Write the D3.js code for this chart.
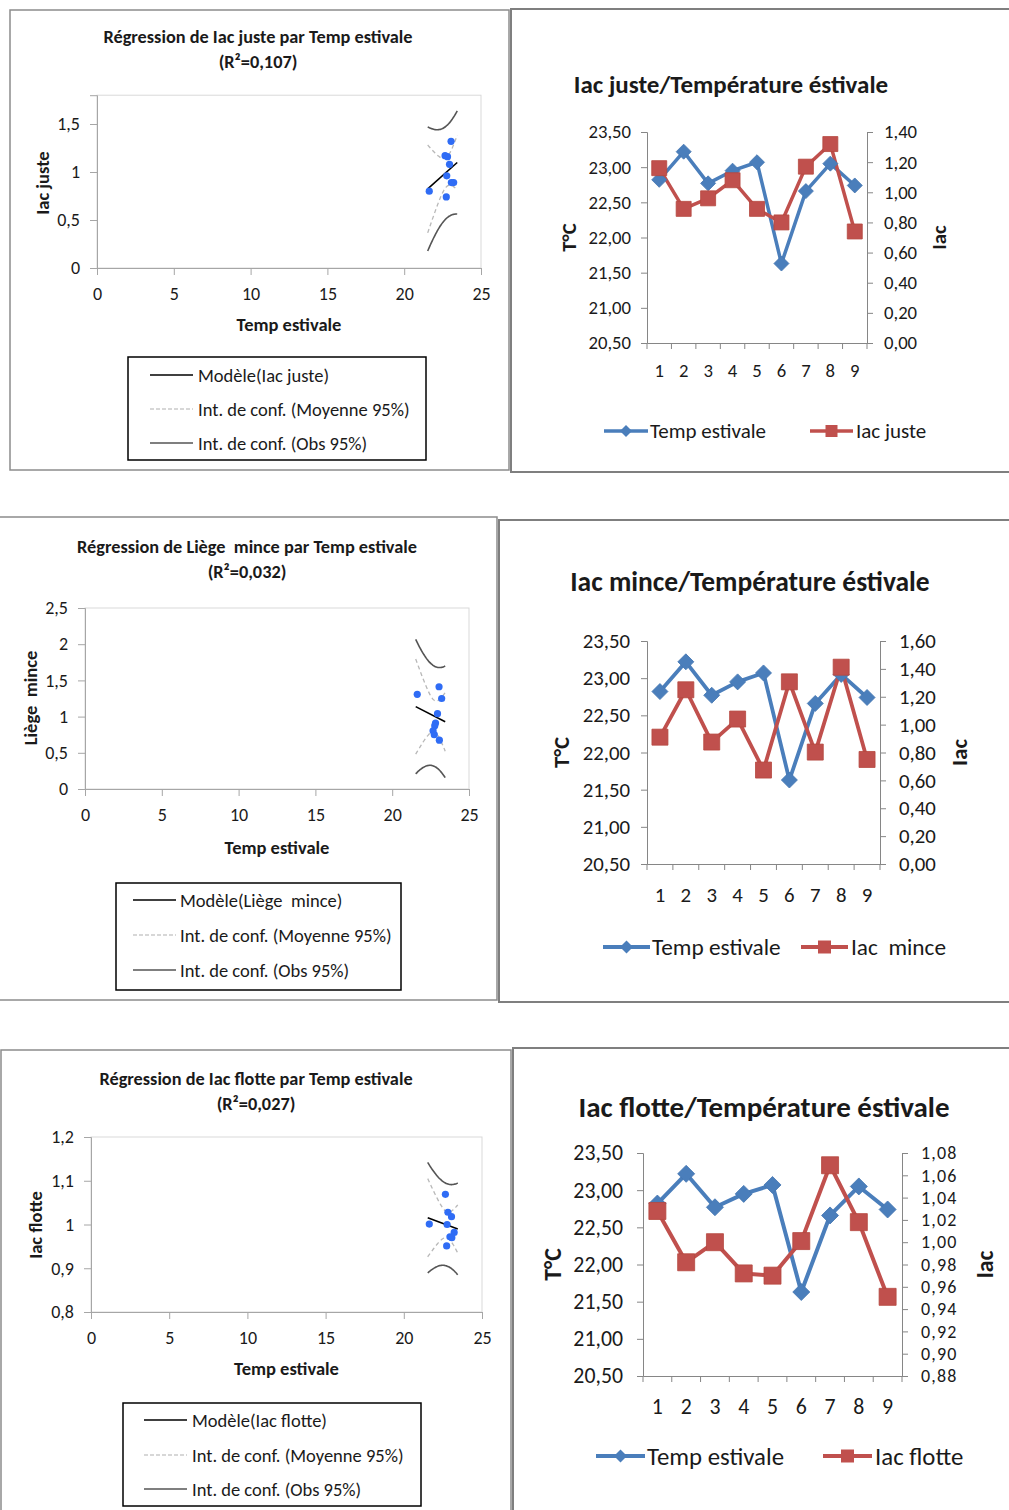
<!DOCTYPE html>
<html><head><meta charset="utf-8">
<script src="https://cdn.jsdelivr.net/npm/d3@7"></script>
<style>
body{margin:0;background:#fff}
svg{display:block}
text{font-family:Carlito, Lato, "Open Sans", sans-serif; fill:#1a1a1a; white-space:pre}
</style>
</head><body>
<svg id="c" width="1009" height="1510"></svg>
<script>
// ---------------- DATA ----------------
const categories = ["1","2","3","4","5","6","7","8","9"];
const tempEstivale = [22.82, 23.22, 22.77, 22.95, 23.07, 21.63, 22.66, 23.05, 22.74];
const iacJuste     = [1.16, 0.89, 0.96, 1.08, 0.89, 0.80, 1.17, 1.32, 0.74];
const liegeMince   = [0.91, 1.25, 0.875, 1.04, 0.674, 1.307, 0.803, 1.412, 0.75];
const iacFlotte    = [1.028, 0.982, 1.000, 0.972, 0.970, 1.001, 1.069, 1.018, 0.951];
const r2Labels = ["0,107", "0,032", "0,027"];
const scatterXTicks = [0, 5, 10, 15, 20, 25];
const justeYTicks  = [0, 0.5, 1, 1.5];
const minceYTicks  = [0, 0.5, 1, 1.5, 2, 2.5];
const flotteYTicks = [0.8, 0.9, 1, 1.1, 1.2];
const tempTicks = [20.5, 21, 21.5, 22, 22.5, 23, 23.5];
const justeRightTicks  = [0, 0.2, 0.4, 0.6, 0.8, 1.0, 1.2, 1.4];
const minceRightTicks  = [0, 0.2, 0.4, 0.6, 0.8, 1.0, 1.2, 1.4, 1.6];
const flotteRightTicks = [0.88, 0.90, 0.92, 0.94, 0.96, 0.98, 1.00, 1.02, 1.04, 1.06, 1.08];
const fitRange = [21.53, 23.45];
const tCrit = 2.365; // t(0.975, 7)

// ---------------- HELPERS ----------------
const loc = d3.formatLocale({decimal: ",", thousands: " ", grouping: [3], currency: ["", "€"]});
const fmtShort = loc.format(".1~f");
const fmt2 = loc.format(".2f");
const svg = d3.select("#c");
svg.append("rect").attr("width", 1009).attr("height", 1510).attr("fill", "#fff");

const BLUE = "#4a7ebb", RED = "#c0504d";
const FONT = "Carlito, Lato, sans-serif";

function panelBorder(x, y, w, h, col, sw) {
  svg.append("rect").attr("x", x).attr("y", y).attr("width", w).attr("height", h)
    .attr("fill", "none").attr("stroke", col).attr("stroke-width", sw);
}

function fit(xs, ys) {
  const n = xs.length, mx = d3.mean(xs), my = d3.mean(ys);
  const sxx = d3.sum(xs, x => (x - mx) ** 2);
  const sxy = d3.sum(xs.map((x, i) => (x - mx) * (ys[i] - my)));
  const b = sxy / sxx, a = my - b * mx;
  const sse = d3.sum(xs.map((x, i) => (ys[i] - a - b * x) ** 2));
  const s = Math.sqrt(sse / (n - 2));
  return {a, b, s, n, mx, sxx};
}

function drawScatter(o) {
  const g = svg.append("g");
  const x = d3.scaleLinear().domain([0, 25]).range(o.xr);
  const y = d3.scaleLinear().domain(o.yd).range(o.yr);
  // titles
  g.append("text").attr("x", o.tx).attr("y", o.ty).attr("text-anchor", "middle")
    .style("font-size", "18.3px").style("font-weight", 600).text(o.title);
  g.append("text").attr("x", o.tx).attr("y", o.ty + 25).attr("text-anchor", "middle")
    .style("font-size", "18.3px").style("font-weight", 600).text("(R²=" + o.r2 + ")");
  // plot frame
  g.append("rect").attr("x", o.xr[0]).attr("y", o.yr[1]).attr("width", o.xr[1] - o.xr[0])
    .attr("height", o.yr[0] - o.yr[1]).attr("fill", "none").attr("stroke", "#d9d9d9");
  // axes
  const ya = g.append("g").attr("transform", `translate(${o.xr[0]},0)`)
    .call(d3.axisLeft(y).tickValues(o.yTicks).tickFormat(fmtShort).tickSize(7).tickPadding(10));
  const xa = g.append("g").attr("transform", `translate(0,${o.yr[0]})`)
    .call(d3.axisBottom(x).tickValues(scatterXTicks).tickFormat(fmtShort).tickSize(7).tickPadding(12));
  [ya, xa].forEach(a => {
    a.select(".domain").attr("stroke", "#a6a6a6");
    a.selectAll(".tick line").attr("stroke", "#a6a6a6");
    a.selectAll("text").style("font-size", "18px").style("font-family", FONT).attr("fill", "#222");
  });
  // axis titles
  g.append("text").attr("x", (o.xr[0] + o.xr[1]) / 2).attr("y", o.xty).attr("text-anchor", "middle")
    .style("font-size", "18.5px").style("font-weight", 600).text("Temp estivale");
  g.append("text").attr("transform", `translate(${o.ytx},${o.yty}) rotate(-90)`).attr("text-anchor", "middle")
    .style("font-size", "18.5px").style("font-weight", 600).text(o.yLabel);
  // regression
  const f = fit(tempEstivale, o.ys);
  const xsamp = d3.range(0, 41).map(i => fitRange[0] + (fitRange[1] - fitRange[0]) * i / 40);
  const model = v => f.a + f.b * v;
  const hwMean = v => tCrit * f.s * Math.sqrt(1 / f.n + (v - f.mx) ** 2 / f.sxx);
  const hwObs = v => tCrit * f.s * Math.sqrt(1 + 1 / f.n + (v - f.mx) ** 2 / f.sxx);
  const line = d3.line().x(d => x(d[0])).y(d => y(d[1])).curve(d3.curveMonotoneX);
  [1, -1].forEach(sg => {
    g.append("path").attr("d", line(xsamp.map(v => [v, model(v) + sg * hwMean(v)])))
      .attr("fill", "none").attr("stroke", "#b8b8b8").attr("stroke-width", 1.3).attr("stroke-dasharray", "4,3");
    g.append("path").attr("d", line(xsamp.map(v => [v, model(v) + sg * hwObs(v)])))
      .attr("fill", "none").attr("stroke", "#555").attr("stroke-width", 1.6);
  });
  g.append("path").attr("d", line(fitRange.map(v => [v, model(v)])))
    .attr("fill", "none").attr("stroke", "#000").attr("stroke-width", 1.6);
  g.selectAll("circle.pt").data(tempEstivale).join("circle").attr("class", "pt")
    .attr("cx", d => x(d)).attr("cy", (d, i) => y(o.ys[i])).attr("r", 3.6).attr("fill", "#2f6cf5");
  // legend
  const L = o.leg;
  g.append("rect").attr("x", L.x).attr("y", L.y).attr("width", L.w).attr("height", L.h)
    .attr("fill", "#fff").attr("stroke", "#000").attr("stroke-width", 1.5);
  const items = [
    {t: "Modèle(" + o.modelName + ")", c: "#000", d: null, w: 1.5},
    {t: "Int. de conf. (Moyenne 95%)", c: "#b0b0b0", d: "4,2", w: 1.1},
    {t: "Int. de conf. (Obs 95%)", c: "#555", d: null, w: 1.3}
  ];
  items.forEach((it, i) => {
    const yy = L.rows[i];
    g.append("line").attr("x1", L.lx[0]).attr("x2", L.lx[1]).attr("y1", yy).attr("y2", yy)
      .attr("stroke", it.c).attr("stroke-width", it.w).attr("stroke-dasharray", it.d);
    g.append("text").attr("x", L.tx).attr("y", yy + 6.5).style("font-size", "18.5px").attr("fill", "#222").text(it.t);
  });
}

function drawLines(o) {
  const g = svg.append("g");
  const x = d3.scaleBand().domain(categories).range(o.xr).padding(0);
  const cx = c => x(c) + x.bandwidth() / 2;
  const yL = d3.scaleLinear().domain([20.5, 23.5]).range(o.yr);
  const yR = d3.scaleLinear().domain(o.rd).range(o.yr);
  g.append("text").attr("x", o.tx).attr("y", o.ty).attr("text-anchor", "middle")
    .style("font-size", o.tfs + "px").style("font-weight", 700).attr("fill", "#222").text(o.title);
  const la = g.append("g").attr("transform", `translate(${o.xr[0]},0)`)
    .call(d3.axisLeft(yL).tickValues(tempTicks).tickFormat(fmt2).tickSize(6).tickPadding(o.lpad));
  const ra = g.append("g").attr("transform", `translate(${o.xr[1]},0)`)
    .call(d3.axisRight(yR).tickValues(o.rTicks).tickFormat(fmt2).tickSize(6).tickPadding(o.rpad));
  const ba = g.append("g").attr("transform", `translate(0,${o.yr[0]})`)
    .call(d3.axisBottom(x).tickSize(0).tickPadding(o.cpad));
  ba.selectAll(".tick").attr("transform", d => `translate(${cx(d)},0)`);
  g.append("g").selectAll("line").data(categories.concat(["end"])).join("line")
    .attr("x1", d => d === "end" ? o.xr[1] : x(d)).attr("x2", d => d === "end" ? o.xr[1] : x(d))
    .attr("y1", o.yr[0]).attr("y2", o.yr[0] + 6).attr("stroke", "#868686");
  [la, ra, ba].forEach(a => {
    a.select(".domain").attr("stroke", "#868686");
    a.selectAll(".tick line").attr("stroke", "#868686");
    a.selectAll("text").style("font-size", o.fs + "px").style("font-family", FONT).attr("fill", "#222");
  });
  if (o.rfs) {
    ra.selectAll("text").style("font-size", o.rfs + "px").style("letter-spacing", o.rls + "px");
  }
  g.append("text").attr("transform", `translate(${o.ltx},${(o.yr[0] + o.yr[1]) / 2}) rotate(-90)`)
    .attr("text-anchor", "middle").style("font-size", (o.fs + 2) + "px").style("font-weight", 700).text("T°C");
  g.append("text").attr("transform", `translate(${o.rtx},${(o.yr[0] + o.yr[1]) / 2}) rotate(-90)`)
    .attr("text-anchor", "middle").style("font-size", (o.fs + 2) + "px").style("font-weight", 700).text("Iac");
  const line = d3.line().x((d, i) => cx(categories[i]));
  g.append("path").attr("d", line.y(d => yL(d))(tempEstivale)).attr("fill", "none")
    .attr("stroke", BLUE).attr("stroke-width", o.lw).attr("stroke-linejoin", "round");
  g.append("path").attr("d", line.y(d => yR(d))(o.ys)).attr("fill", "none")
    .attr("stroke", RED).attr("stroke-width", o.lw).attr("stroke-linejoin", "round");
  const dia = d3.symbol().type(d3.symbolSquare).size(o.ms * o.ms / 2);
  g.selectAll("path.dm").data(tempEstivale).join("path").attr("class", "dm")
    .attr("d", dia).attr("transform", (d, i) => `translate(${cx(categories[i])},${yL(d)}) rotate(45)`)
    .attr("fill", BLUE).attr("stroke", "#4677b2").attr("stroke-width", 0.8);
  const sq = d3.symbol().type(d3.symbolSquare).size(o.ms * o.ms);
  g.selectAll("path.sq").data(o.ys).join("path").attr("class", "sq")
    .attr("d", sq).attr("transform", (d, i) => `translate(${cx(categories[i])},${yR(d)})`)
    .attr("fill", RED).attr("stroke", "#b5473f").attr("stroke-width", 0.8);
  // legend
  const Lg = o.leg;
  g.append("line").attr("x1", Lg.b[0]).attr("x2", Lg.b[1]).attr("y1", Lg.y).attr("y2", Lg.y)
    .attr("stroke", BLUE).attr("stroke-width", o.lw);
  g.append("path").attr("d", d3.symbol().type(d3.symbolSquare).size(Lg.m * Lg.m / 2))
    .attr("transform", `translate(${(Lg.b[0] + Lg.b[1]) / 2},${Lg.y}) rotate(45)`).attr("fill", BLUE);
  g.append("text").attr("x", Lg.b[1] + 2).attr("y", Lg.y + o.lfs * 0.35).style("font-size", o.lfs + "px").attr("fill", "#222").text("Temp estivale");
  g.append("line").attr("x1", Lg.r[0]).attr("x2", Lg.r[1]).attr("y1", Lg.y).attr("y2", Lg.y)
    .attr("stroke", RED).attr("stroke-width", o.lw);
  g.append("path").attr("d", d3.symbol().type(d3.symbolSquare).size(Lg.m * Lg.m))
    .attr("transform", `translate(${(Lg.r[0] + Lg.r[1]) / 2},${Lg.y})`).attr("fill", RED);
  g.append("text").attr("x", Lg.r[1] + 3).attr("y", Lg.y + o.lfs * 0.35).style("font-size", o.lfs + "px").attr("fill", "#222").text(o.seriesName);
}

// ---------------- PANEL BORDERS ----------------
panelBorder(10, 10, 499, 460, "#8c8c8c", 1.5);
panelBorder(511, 9, 510, 463, "#7f7f7f", 2);
panelBorder(-1, 517, 498, 483, "#8c8c8c", 1.5);
panelBorder(499, 520, 520, 482, "#7f7f7f", 2);
panelBorder(1, 1050, 510, 470, "#8c8c8c", 1.5);
panelBorder(513, 1048, 510, 470, "#7f7f7f", 2);

// ---------------- SCATTER PANELS ----------------
drawScatter({title: "Régression de Iac juste par Temp estivale", r2: r2Labels[0], tx: 258, ty: 42.5,
  xr: [97, 481], yr: [268, 95.2], yd: [0, 1.8], yTicks: justeYTicks, ys: iacJuste,
  xty: 331, ytx: 49, yty: 183, yLabel: "Iac juste", modelName: "Iac juste",
  leg: {x: 128, y: 357, w: 298, h: 103, rows: [375, 409, 443], lx: [150, 193], tx: 198}});
drawScatter({title: "Régression de Liège  mince par Temp estivale", r2: r2Labels[1], tx: 247, ty: 552.5,
  xr: [85, 469], yr: [789, 608], yd: [0, 2.5], yTicks: minceYTicks, ys: liegeMince,
  xty: 854, ytx: 37, yty: 698, yLabel: "Liège  mince", modelName: "Liège  mince",
  leg: {x: 116, y: 883, w: 285, h: 107, rows: [900, 935, 970], lx: [133, 176], tx: 180}});
drawScatter({title: "Régression de Iac flotte par Temp estivale", r2: r2Labels[2], tx: 256, ty: 1084.5,
  xr: [91, 482], yr: [1312, 1137], yd: [0.8, 1.2], yTicks: flotteYTicks, ys: iacFlotte,
  xty: 1375, ytx: 42, yty: 1225, yLabel: "Iac flotte", modelName: "Iac flotte",
  leg: {x: 123, y: 1403, w: 298, h: 103, rows: [1420, 1455, 1489], lx: [144, 187], tx: 192}});

// ---------------- LINE PANELS ----------------
drawLines({title: "Iac juste/Température éstivale", tx: 731, ty: 93, tfs: 25,
  xr: [647, 867], yr: [343, 132], rd: [0, 1.4], rTicks: justeRightTicks, ys: iacJuste,
  fs: 18.7, lpad: 10, rpad: 11, cpad: 21, lw: 3.5, ms: 15, ltx: 576, rtx: 946, seriesName: "Iac juste", lfs: 21,
  leg: {y: 431, b: [604, 648], r: [810, 853], m: 12}});
drawLines({title: "Iac mince/Température éstivale", tx: 750, ty: 591, tfs: 27.5,
  xr: [647, 880], yr: [864, 641], rd: [0, 1.6], rTicks: minceRightTicks, ys: liegeMince,
  fs: 20.8, lpad: 11, rpad: 13, cpad: 23, lw: 3.8, ms: 16, ltx: 569, rtx: 967, seriesName: "Iac  mince", lfs: 23.3,
  leg: {y: 947, b: [603, 650], r: [801, 848], m: 13}});
drawLines({title: "Iac flotte/Température éstivale", tx: 764, ty: 1117, tfs: 29,
  xr: [643, 902], yr: [1376, 1153], rd: [0.88, 1.08], rTicks: flotteRightTicks, ys: iacFlotte,
  fs: 21.8, rfs: 18, rls: 1.2, lpad: 14, rpad: 13, cpad: 23, lw: 4, ms: 17, ltx: 561, rtx: 993, seriesName: "Iac flotte", lfs: 24.8,
  leg: {y: 1456, b: [596, 645], r: [823, 872], m: 13}});
</script>
</body></html>
